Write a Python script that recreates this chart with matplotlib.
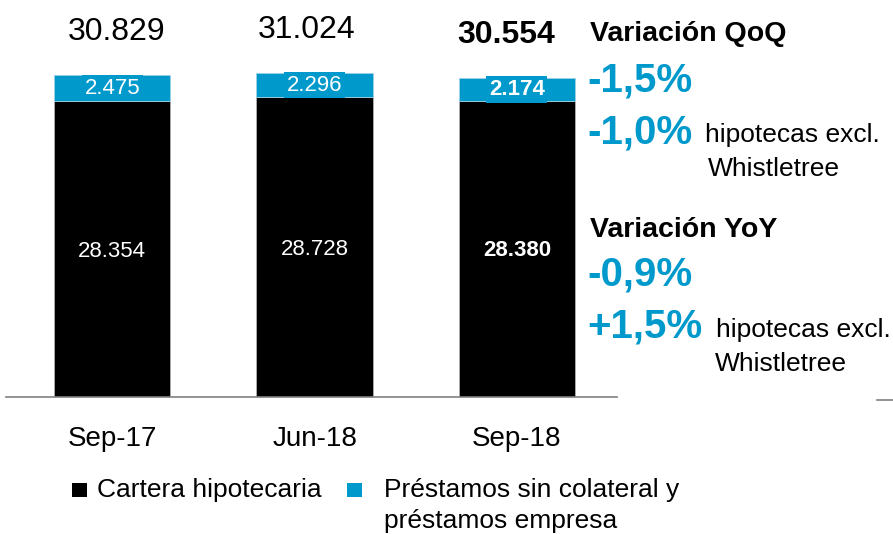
import matplotlib
matplotlib.use('Agg')
import matplotlib.pyplot as plt
from matplotlib.patches import Rectangle
from matplotlib.lines import Line2D

plt.rcParams['font.family'] = ['Liberation Sans', 'DejaVu Sans']

# datos
periodos = ['Sep-17', 'Jun-18', 'Sep-18']
hipotecaria = [28354, 28728, 28380]
sin_colateral = [2475, 2296, 2174]
totales = [30829, 31024, 30554]
etq_hip = ['28.354', '28.728', '28.380']
etq_sin = ['2.475', '2.296', '2.174']
etq_tot = ['30.829', '31.024', '30.554']

# desplazamiento horizontal de los totales (puntos), como en el original
desplaz_tot = [3, -6, -8]

NEGRO = '#000000'
AZUL = '#0099CC'

W, H = 893, 534
fig = plt.figure(figsize=(W / 100, H / 100), dpi=100)
# eje: de x=6 a x=617 px, base en y=397 px
ax = fig.add_axes([6 / W, (H - 397) / H, 611 / W, 397 / H])

x = range(len(periodos))
ancho = 0.574
ax.bar(x, hipotecaria, width=ancho, color=NEGRO, edgecolor='#B0B0B0', linewidth=0.6)
ax.bar(x, sin_colateral, width=ancho, bottom=hipotecaria, color=AZUL,
       edgecolor='#9FD0E6', linewidth=0.6)

ax.set_xlim(-0.525, 2.495)
ax.set_ylim(0, 38030)

for i in x:
    peso = 'bold' if i == 2 else 'normal'
    ax.annotate(etq_hip[i], (i, hipotecaria[i] / 2), xytext=(0, -1.5), textcoords='offset points',
                ha='center', va='center', color='white', fontsize=16, fontweight=peso)
    ax.text(i, hipotecaria[i] + sin_colateral[i] / 2, etq_sin[i], ha='center',
            va='center', color='white', fontsize=16, fontweight=peso,
            bbox=dict(boxstyle='square,pad=0.12', fc=AZUL, ec='none'))
    ax.annotate(etq_tot[i], (i, totales[i]), xytext=(desplaz_tot[i], 25),
                textcoords='offset points', ha='center', va='baseline',
                fontsize=23, fontweight=peso)

ax.set_xticks(list(x))
ax.set_xticklabels(periodos, fontsize=20)
ax.tick_params(axis='x', length=0, pad=21)
ax.set_yticks([])
for s in ['top', 'right', 'left']:
    ax.spines[s].set_visible(False)
ax.spines['bottom'].set_color('#808080')
ax.spines['bottom'].set_linewidth(1.2)

def fx(px):
    return px / W

def fy(py):
    return 1 - py / H

# textos de la derecha (posiciones de linea base)
fig.text(fx(590), fy(41), 'Variación QoQ', fontsize=20.5, fontweight='bold', va='baseline')
fig.text(fx(587), fy(91), '-1,5%', fontsize=29, fontweight='bold', color=AZUL, va='baseline')
fig.text(fx(587), fy(143), '-1,0%', fontsize=29, fontweight='bold', color=AZUL, va='baseline')
fig.text(fx(705), fy(142), 'hipotecas excl.', fontsize=19, va='baseline')
fig.text(fx(708), fy(176), 'Whistletree', fontsize=19, va='baseline')
fig.text(fx(590), fy(237), 'Variación YoY', fontsize=20.5, fontweight='bold', va='baseline')
fig.text(fx(587), fy(286), '-0,9%', fontsize=29, fontweight='bold', color=AZUL, va='baseline')
fig.text(fx(587), fy(337), '+1,5%', fontsize=29, fontweight='bold', color=AZUL, va='baseline')
fig.text(fx(716), fy(337), 'hipotecas excl.', fontsize=19, va='baseline')
fig.text(fx(715), fy(371), 'Whistletree', fontsize=19, va='baseline')

# leyenda
fig.add_artist(Rectangle((fx(72), fy(497)), 15 / W, 14 / H, transform=fig.transFigure,
                         fc=NEGRO, ec='none'))
fig.text(fx(97), fy(490), 'Cartera hipotecaria', fontsize=19, va='center')
fig.add_artist(Rectangle((fx(347), fy(497)), 15 / W, 14 / H, transform=fig.transFigure,
                         fc=AZUL, ec='none'))
fig.text(fx(384), fy(490), 'Préstamos sin colateral y', fontsize=19, va='center')
fig.text(fx(384), fy(521), 'préstamos empresa', fontsize=19, va='center')

fig.add_artist(Line2D([fx(877), fx(893)], [fy(400), fy(400)], transform=fig.transFigure,
                      color='#808080', lw=1.2))

fig.savefig('out.png', dpi=100)
